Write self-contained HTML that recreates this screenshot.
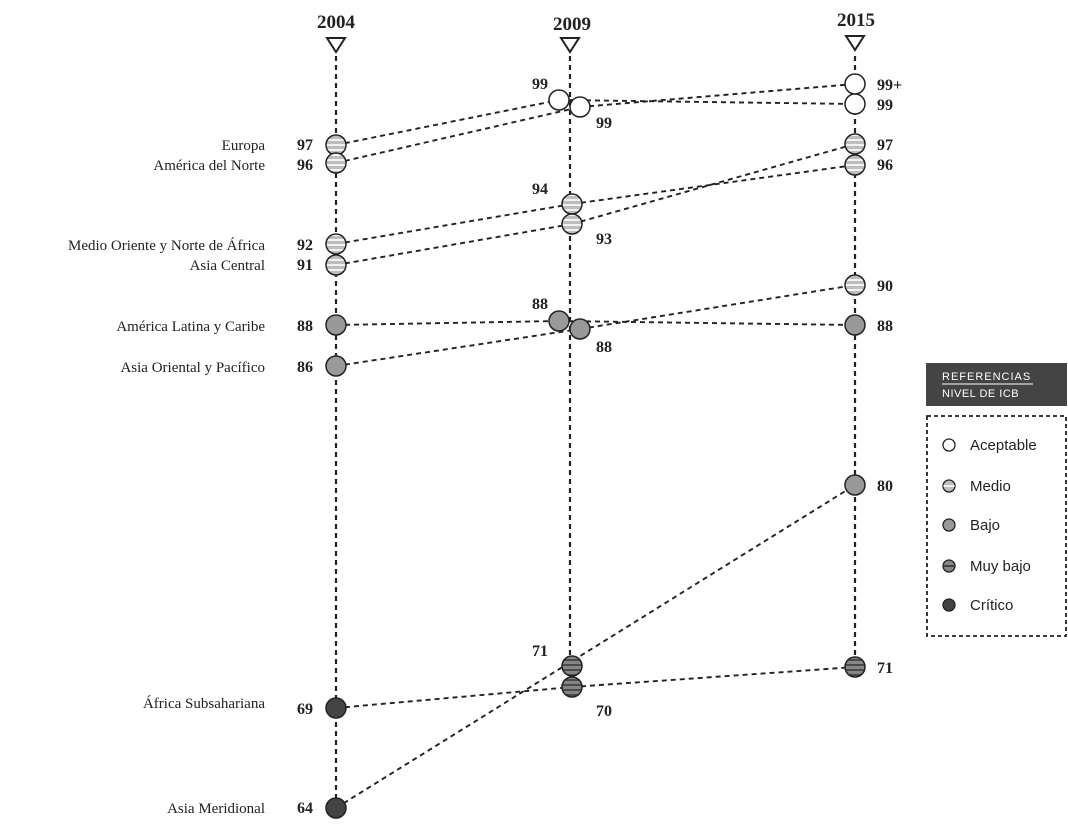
<!DOCTYPE html>
<html><head><meta charset="utf-8"><style>
html,body{margin:0;padding:0;background:#fff;}
svg{display:block;}
.lab{font-family:"Liberation Serif",serif;font-size:15px;fill:#222;text-anchor:end;}
.num{font-family:"Liberation Serif",serif;font-size:16px;font-weight:bold;fill:#222;}
.yr{font-family:"Liberation Serif",serif;font-size:19px;font-weight:bold;fill:#222;text-anchor:middle;}
.leg{font-family:"Liberation Sans",sans-serif;font-size:15px;fill:#222;}
</style></head><body>
<svg width="1068" height="826" viewBox="0 0 1068 826" xmlns="http://www.w3.org/2000/svg">
<defs>
<pattern id="med" width="4" height="5" patternUnits="userSpaceOnUse" y="1"><rect width="4" height="5" fill="#bdbdbd"/><rect y="3" width="4" height="2" fill="#f2f2f2"/></pattern>
<pattern id="muy" width="4" height="5" patternUnits="userSpaceOnUse" y="1"><rect width="4" height="5" fill="#858585"/><rect y="3" width="4" height="2" fill="#4a4a4a"/></pattern>
</defs>
<g stroke="#222" stroke-width="2.2" stroke-dasharray="5,4" fill="none">
<line x1="336" y1="56" x2="336" y2="808"/>
<line x1="570" y1="56" x2="570" y2="666"/>
<line x1="855" y1="56" x2="855" y2="667"/>
</g>
<g stroke="#222" stroke-width="1.9" stroke-dasharray="5,4" fill="none">
<line x1="336" y1="145" x2="559" y2="100"/>
<line x1="336" y1="163" x2="580" y2="107"/>
<line x1="559" y1="100" x2="855" y2="104"/>
<line x1="580" y1="107" x2="855" y2="84"/>
<line x1="336" y1="244" x2="572" y2="204"/>
<line x1="336" y1="265" x2="572" y2="224"/>
<line x1="572" y1="204" x2="855" y2="165"/>
<line x1="572" y1="224" x2="855" y2="144"/>
<line x1="336" y1="325" x2="559" y2="321"/>
<line x1="559" y1="321" x2="855" y2="325"/>
<line x1="336" y1="366" x2="580" y2="329"/>
<line x1="580" y1="329" x2="855" y2="285"/>
<line x1="336" y1="708" x2="572" y2="687"/>
<line x1="572" y1="687" x2="855" y2="667"/>
<line x1="336" y1="808" x2="855" y2="485"/>
</g>
<g stroke="#222" stroke-width="2" fill="none">
<path d="M327,38 L345,38 L336,52 Z"/>
<path d="M561,38 L579,38 L570,52 Z"/>
<path d="M846,36 L864,36 L855,50 Z"/>
</g>
<text class="yr" x="336" y="28">2004</text>
<text class="yr" x="572" y="30">2009</text>
<text class="yr" x="856" y="26">2015</text>
<g stroke="#222" stroke-width="1.5">
<circle cx="336" cy="145" r="10" fill="url(#med)"/>
<circle cx="336" cy="163" r="10" fill="url(#med)"/>
<circle cx="336" cy="244" r="10" fill="url(#med)"/>
<circle cx="336" cy="265" r="10" fill="url(#med)"/>
<circle cx="336" cy="325" r="10" fill="#999"/>
<circle cx="336" cy="366" r="10" fill="#999"/>
<circle cx="336" cy="708" r="10" fill="#444"/>
<circle cx="336" cy="808" r="10" fill="#444"/>
<circle cx="559" cy="100" r="10" fill="#fff"/>
<circle cx="580" cy="107" r="10" fill="#fff"/>
<circle cx="572" cy="204" r="10" fill="url(#med)"/>
<circle cx="572" cy="224" r="10" fill="url(#med)"/>
<circle cx="559" cy="321" r="10" fill="#999"/>
<circle cx="580" cy="329" r="10" fill="#999"/>
<circle cx="572" cy="666" r="10" fill="url(#muy)"/>
<circle cx="572" cy="687" r="10" fill="url(#muy)"/>
<circle cx="855" cy="84" r="10" fill="#fff"/>
<circle cx="855" cy="104" r="10" fill="#fff"/>
<circle cx="855" cy="144" r="10" fill="url(#med)"/>
<circle cx="855" cy="165" r="10" fill="url(#med)"/>
<circle cx="855" cy="285" r="10" fill="url(#med)"/>
<circle cx="855" cy="325" r="10" fill="#999"/>
<circle cx="855" cy="485" r="10" fill="#999"/>
<circle cx="855" cy="667" r="10" fill="url(#muy)"/>
</g>
<text class="lab" x="265" y="150">Europa</text>
<text class="lab" x="265" y="170">América del Norte</text>
<text class="lab" x="265" y="250">Medio Oriente y Norte de África</text>
<text class="lab" x="265" y="270">Asia Central</text>
<text class="lab" x="265" y="331">América Latina y Caribe</text>
<text class="lab" x="265" y="372">Asia Oriental y Pacífico</text>
<text class="lab" x="265" y="708">África Subsahariana</text>
<text class="lab" x="265" y="813">Asia Meridional</text>
<g class="num" text-anchor="end">
<text x="313" y="150">97</text><text x="313" y="170">96</text>
<text x="313" y="250">92</text><text x="313" y="270">91</text>
<text x="313" y="331">88</text><text x="313" y="372">86</text>
<text x="313" y="714">69</text><text x="313" y="813">64</text>
<text x="548" y="89">99</text><text x="548" y="194">94</text>
<text x="548" y="309">88</text><text x="548" y="656">71</text>
</g>
<g class="num">
<text x="596" y="128">99</text><text x="596" y="244">93</text>
<text x="596" y="352">88</text><text x="596" y="716">70</text>
<text x="877" y="90">99+</text><text x="877" y="110">99</text>
<text x="877" y="150">97</text><text x="877" y="170">96</text>
<text x="877" y="291">90</text><text x="877" y="331">88</text>
<text x="877" y="491">80</text><text x="877" y="673">71</text>
</g>
<rect x="926" y="363" width="141" height="43" fill="#444"/>
<text x="942" y="380" font-family="Liberation Sans,sans-serif" font-size="11" fill="#fff" letter-spacing="1">REFERENCIAS</text>
<line x1="942" y1="384" x2="1033" y2="384" stroke="#fff" stroke-width="1"/>
<text x="942" y="397" font-family="Liberation Sans,sans-serif" font-size="11" fill="#fff" letter-spacing="0.5">NIVEL DE ICB</text>
<rect x="927" y="416" width="139" height="220" fill="none" stroke="#222" stroke-width="1.8" stroke-dasharray="4,3"/>
<g stroke="#222" stroke-width="1.3">
<circle cx="949" cy="445" r="6" fill="#fff"/>
<circle cx="949" cy="486" r="6" fill="#bdbdbd"/>
<line x1="943.5" y1="486" x2="954.5" y2="486" stroke="#f2f2f2" stroke-width="2"/>
<circle cx="949" cy="525" r="6" fill="#999"/>
<circle cx="949" cy="566" r="6" fill="#858585"/>
<line x1="943.5" y1="566" x2="954.5" y2="566" stroke="#444" stroke-width="2"/>
<circle cx="949" cy="605" r="6" fill="#444"/>
</g>
<text class="leg" x="970" y="450">Aceptable</text>
<text class="leg" x="970" y="491">Medio</text>
<text class="leg" x="970" y="530">Bajo</text>
<text class="leg" x="970" y="571">Muy bajo</text>
<text class="leg" x="970" y="610">Crítico</text>
</svg>
</body></html>
